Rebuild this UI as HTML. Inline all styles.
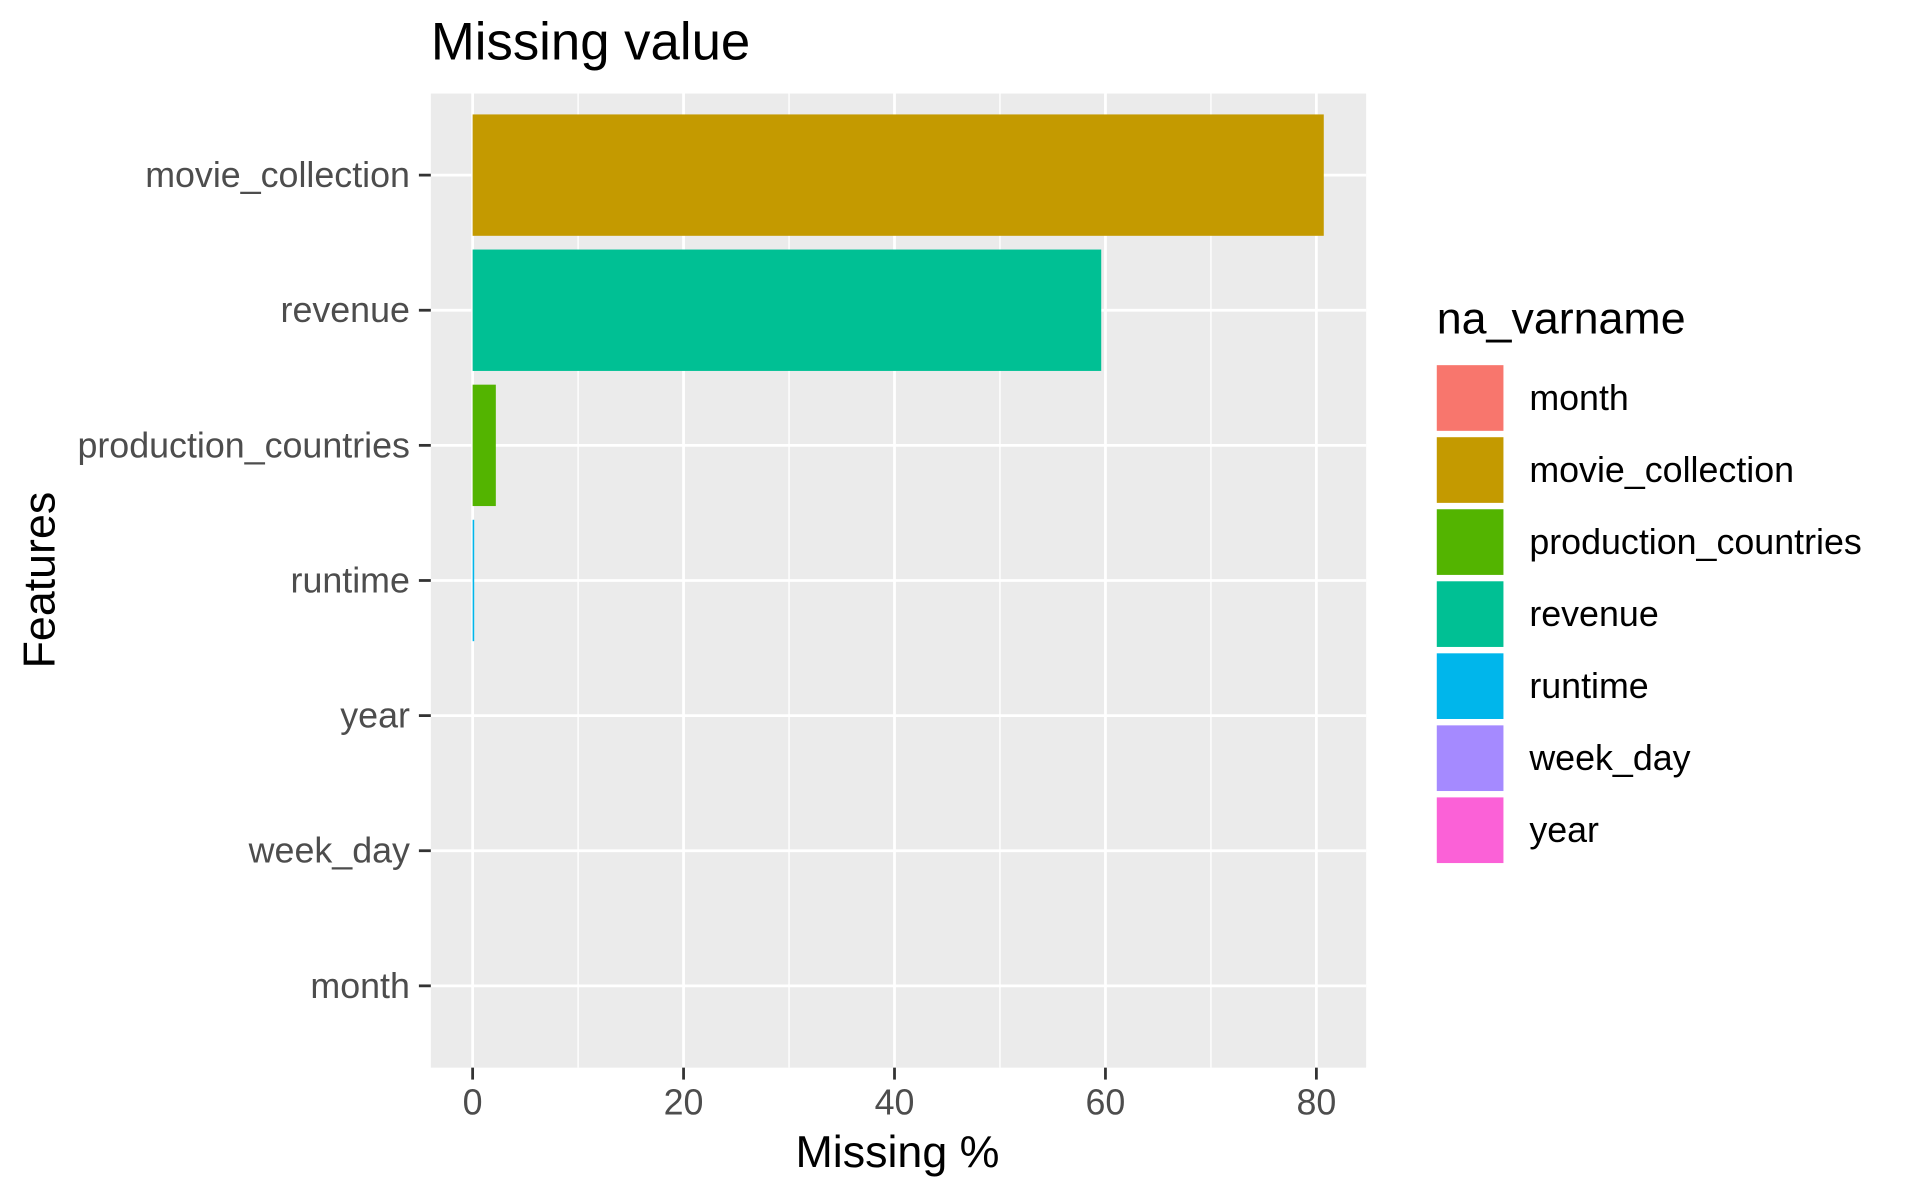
<!DOCTYPE html>
<html><head><meta charset="utf-8"><style>
html,body{margin:0;padding:0;background:#fff;}
svg{display:block;font-family:"Liberation Sans",sans-serif;}
</style></head><body>
<svg id="chart" width="1909" height="1200" viewBox="0 0 1909 1200">
<g transform="scale(0.995)">
<text x="433" y="60" font-size="53" fill="#000">Missing value</text>
<rect x="433" y="94" width="940" height="979" fill="#EBEBEB"/>
<g id="grid"></g><g id="bars"></g><g id="yaxis"></g><g id="xaxis"></g>
<text x="902" y="1173" font-size="45" text-anchor="middle" fill="#000">Missing %</text>
<text transform="translate(55,583) rotate(-90)" font-size="45" text-anchor="middle" fill="#000">Features</text>
<text x="1444" y="335" font-size="45" fill="#000">na_varname</text>
<g id="legend"></g>
</g>
</svg>
<script>
const categories = ["movie_collection","revenue","production_countries","runtime","year","week_day","month"];
const values = [80.7, 59.6, 2.2, 0.15, 0, 0, 0];
const xTicks = [0,20,40,60,80];
const xMinor = [10,30,50,70];
const legendNames = ["month","movie_collection","production_countries","revenue","runtime","week_day","year"];
const legendColors = ["#F8766D","#C49A00","#53B400","#00C094","#00B6EB","#A58AFF","#FB61D7"];
const NS="http://www.w3.org/2000/svg";
function xs(v){return 475 + v*(1323-475)/80;}
function ys(i){return 176 + i*135.8;}
function mk(tag,attrs,parent){const e=document.createElementNS(NS,tag);for(const k in attrs)e.setAttribute(k,attrs[k]);document.getElementById(parent).appendChild(e);return e;}
xMinor.forEach(v=>{const l=mk('line',{x1:xs(v),x2:xs(v),y1:94,y2:1073,stroke:'#fff','stroke-width':1.4},'grid');

});
xTicks.forEach(v=>{const l=mk('line',{x1:xs(v),x2:xs(v),y1:94,y2:1073,stroke:'#fff','stroke-width':2.8},'grid');


const t=mk('line',{x1:xs(v),x2:xs(v),y1:1073,y2:1085,stroke:'#333','stroke-width':2.8},'xaxis');


const tx=mk('text',{x:xs(v),y:1120,'font-size':36,'text-anchor':'middle',fill:'#4D4D4D'},'xaxis');
tx.textContent=v;

});
categories.forEach((c,i)=>{const y=ys(i);
const l=mk('line',{x1:433,x2:1373,y1:y,y2:y,stroke:'#fff','stroke-width':2.8},'grid');


const t=mk('line',{x1:421,x2:433,y1:y,y2:y,stroke:'#333','stroke-width':2.8},'yaxis');


const tx=mk('text',{x:412,y:y+12,'font-size':36,'text-anchor':'end',fill:'#4D4D4D'},'yaxis');
tx.textContent=c;


const col=legendColors[legendNames.indexOf(c)];
if(values[i]>0){const b=mk('rect',{x:xs(0),y:y-61,width:xs(values[i])-xs(0),height:122,fill:col},'bars');

}});
legendNames.forEach((n,i)=>{const y=367+i*72.4;
const r=mk('rect',{x:1444,y:y,width:67,height:66,fill:legendColors[i]},'legend');


const t=mk('text',{x:1537,y:y+45,'font-size':36,fill:'#000'},'legend');
t.textContent=n;

});
</script>
</body></html>
